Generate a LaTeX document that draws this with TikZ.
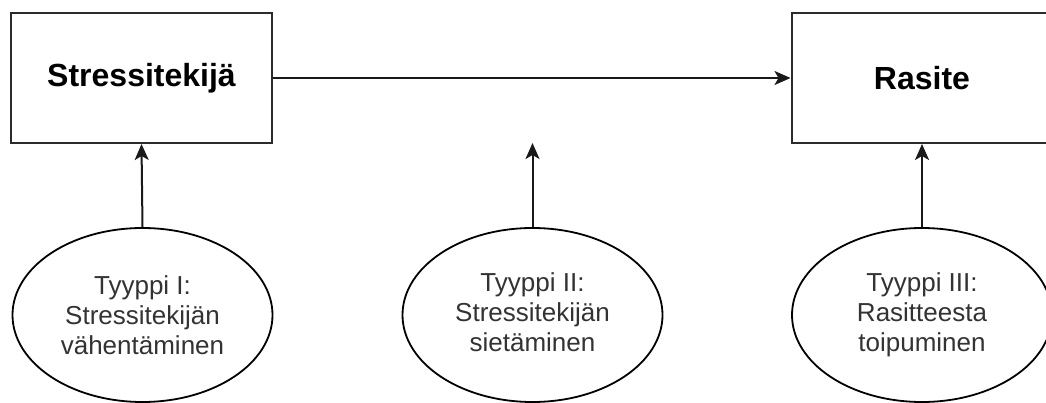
\documentclass[tikz,border=0pt]{standalone}
\usepackage{fontspec}
\setmainfont{Liberation Sans}
\usetikzlibrary{shapes.geometric,arrows.meta}
\definecolor{edge}{HTML}{2B2B2B}
\definecolor{ink}{HTML}{333333}
\tikzset{
  x=1pt, y=-1pt,
  factor/.style={draw=edge, line width=2pt, fill=white, minimum width=261pt,
    minimum height=130pt, inner sep=0pt, font=\fontsize{32}{36}\selectfont\bfseries},
  coping/.style={ellipse, draw=black, line width=1.8pt, fill=white, minimum width=260pt,
    minimum height=174pt, inner sep=0pt, align=center, text=ink,
    font=\fontsize{26}{30}\selectfont},
  link/.style={draw=black!90, line width=2pt,
    -{Stealth[length=16pt,width=14pt,inset=4pt]}}
}
\begin{document}
\begin{tikzpicture}
\clip (0,0) rectangle (1046,403);
\fill[white] (0,0) rectangle (1046,403);

% stressor and strain boxes
\node[factor] (stressor) at (141.5,78) {Stressitekijä};
\node[factor] (strain) at (922,78) {Rasite};

% coping types
\node[coping] (typeI) at (142.5,315) {Tyyppi I:\\Stressitekijän\\vähentäminen};
\node[coping] (typeII) at (532.5,315) {\raisebox{-9pt}{\begin{tabular}{@{}c@{}}Tyyppi II:\\Stressitekijän\\sietäminen\end{tabular}}};
\node[coping] (typeIII) at (922,315) {Tyyppi III:\\Rasitteesta\\toipuminen};

% free end of the middle arrow, level with the box bottoms
\coordinate (mid) at (532.5,143);

\draw[link] (stressor.east) -- (strain.west);
\draw[link] (typeI.north) -- (stressor.south);
\draw[link] (typeII.north) -- (mid);
\draw[link] (typeIII.north) -- (strain.south);
\end{tikzpicture}
\end{document}
